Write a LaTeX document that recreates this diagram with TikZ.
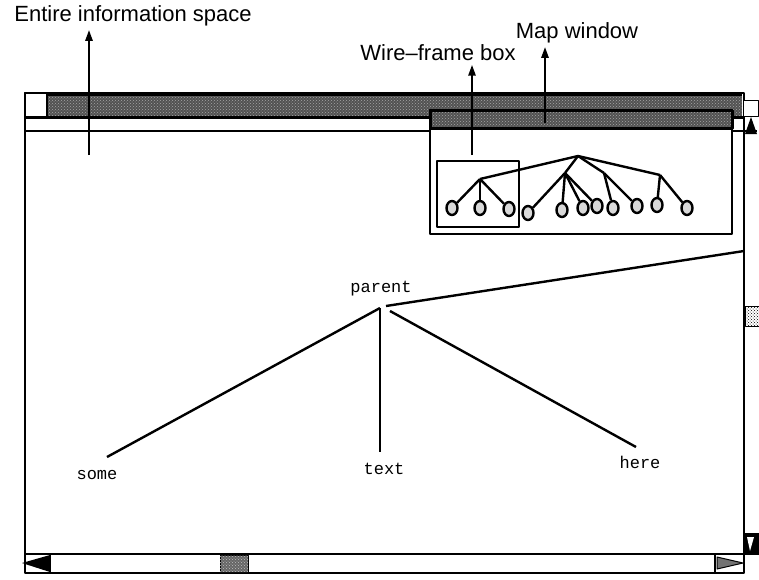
\documentclass[tikz,border=0pt]{standalone}
\usepackage{fontspec}
\setmainfont{Liberation Sans}
\setmonofont{Liberation Mono}
\usetikzlibrary{calc,positioning,arrows.meta,patterns,shapes.geometric}

\begin{document}
\begin{tikzpicture}[
		x=1pt,
		y=-1pt,
		line join=round,
		>=Triangle,
		frame/.style={line width=2.4pt},
		bar/.style={fill=black!68, postaction={pattern=crosshatch dots, pattern color=black!35}},
		leaf/.style={ellipse, draw, line width=2.4pt, fill=black!15, minimum width=11pt, minimum height=14pt, inner sep=0pt},
		branch/.style={line width=2.4pt},
		link/.style={line width=2.4pt},
		pointer/.style={-{Triangle[length=11pt,width=7pt]}, line width=2.4pt},
		callout/.style={font=\fontsize{22}{26}\selectfont},
		word/.style={font=\ttfamily\fontsize{17}{20}\selectfont}
		]
		\useasboundingbox (0,0) rectangle (759,579);
		
		%------------------------------------------------------------------
		% Coordinates
		%------------------------------------------------------------------
		\coordinate (winNW)  at ( 25, 93);
		\coordinate (winSE)  at (744,573);
		
		\coordinate (mapNW)  at (430,110);
		\coordinate (mapSE)  at (732,234);
		
		% Map tree inner points
		\coordinate (mRoot)  at (578,156);
		\coordinate (mA)     at (480,179);
		\coordinate (mB)     at (565,173);
		\coordinate (mC)     at (604,173);
		\coordinate (mD)     at (660,175);
		
		% Main tree apex and line ends
		\coordinate (apex)   at (380,308);
		\coordinate (someE)  at (107,457);
		\coordinate (textE)  at (380,452);
		\coordinate (hereE)  at (636,447);
		\coordinate (edgeE)  at (744,251);
		
		%------------------------------------------------------------------
		% Main window
		%------------------------------------------------------------------
		\fill[bar] (47,95) rectangle (742,116);
		\draw[frame] (winNW) rectangle (winSE);
		\draw[frame] (25,95) -- (742,95);
		\draw[line width=3pt] (25,117) -- (744,117);
		\draw[frame, fill=white] (25,93) rectangle (47,117);
		\draw[frame] (25,131) -- (757,131);
		
		% Right side box and scroll arrows
		\draw[line width=1pt, fill=white] (743,100) rectangle (758,116);
		\fill (745,134) -- (751,117) -- (757,134) -- cycle;
		\draw[line width=0.8pt, fill=black!25, pattern=crosshatch dots] (745,306) rectangle (759,326);
		\fill (743,533) rectangle (759,555);
		\fill[white] (747,537) -- (754,537) -- (750,551) -- cycle;
		
		% Bottom scroll bar
		\draw[frame] (25,554) -- (744,554);
		\draw[frame] (50,554) -- (50,573);
		\fill (22,563) -- (50,555) -- (50,572) -- cycle;
		\draw[line width=1pt, fill=black!60, postaction={pattern=crosshatch dots, pattern color=black!25}] (220,555) rectangle (248,572);
		\draw[frame] (715,554) -- (715,573);
		\draw[line width=1pt, fill=black!55] (717,557) -- (743,563) -- (717,569) -- cycle;
		
		%------------------------------------------------------------------
		% Map window
		%------------------------------------------------------------------
		\draw[line width=2.4pt, fill=white] (mapNW) rectangle (mapSE);
		\fill[bar] (mapNW) rectangle (732,128);
		\draw[line width=3pt] (mapNW) rectangle (732,128);
		
		% Wire-frame box
		\draw[frame] (437,161) rectangle (519,227);
		
		% Map tree
		\foreach \name/\x/\y in {m1/452/208, m2/480/208, m3/509/209, m4/528/213,
			m5/562/210, m6/583/208, m7/597/206, m8/613/208, m9/637/206,
			m10/657/205, m11/687/208}
		\node[leaf] (\name) at (\x,\y) {};
		
		\draw[branch] (mRoot) -- (mA);
		\draw[branch] (mRoot) -- (mB);
		\draw[branch] (mRoot) -- (mC);
		\draw[branch] (mRoot) -- (mD);
		\foreach \up/\kid in {mA/m1, mA/m2, mA/m3, mB/m4, mB/m5, mB/m6, mB/m7,
			mC/m8, mC/m9, mD/m10, mD/m11}
		\draw[branch] (\up) -- (\kid);
		
		%------------------------------------------------------------------
		% Main tree
		%------------------------------------------------------------------
		\node[word] (parent) at (381,289) {parent};
		\node[word] (some)   at ( 97,475) {some};
		\node[word] (text)   at (384,469) {text};
		\node[word] (here)   at (640,462) {here};
		
		\draw[link] (apex) -- (someE);
		\draw[link] (apex) -- (textE);
		\draw[link] ($(apex)+(10,3)$) -- (hereE);
		\draw[link] ($(apex)+(6,-2)$) -- (edgeE);
		
		%------------------------------------------------------------------
		% Labels
		%------------------------------------------------------------------
		\node[callout] (entire) at (133,16) {Entire information space};
		\node[callout] (wire)   at (438,53) {Wire--frame box};
		\node[callout] (mapw)   at (577,33) {Map window};
		
		\coordinate (entireF) at (89,155);
		\coordinate (wireF)   at (472,155);
		\coordinate (mapF)    at (545,123);
		
		\draw[pointer] (entireF) -- (entireF |- entire.south);
		\draw[pointer] (wireF) -- (wireF |- wire.south);
		\draw[pointer] (mapF) -- (mapF |- mapw.south);
		
	\end{tikzpicture}
\end{document}
